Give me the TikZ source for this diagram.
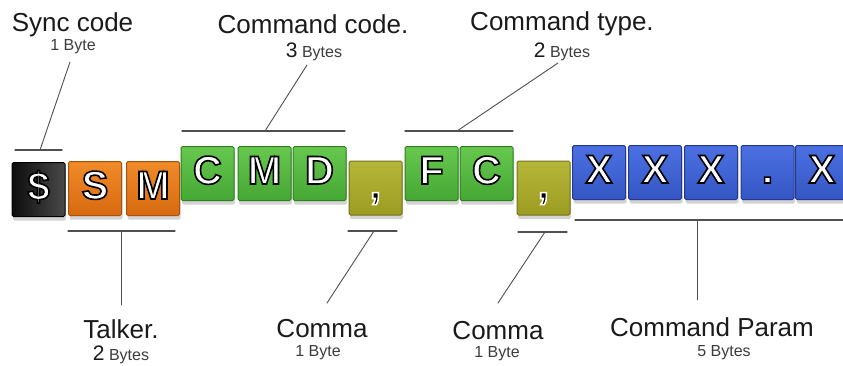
\documentclass[tikz,border=0pt]{standalone}
\usepackage{fontspec}
\setmainfont{Liberation Sans}
\newfontfamily\boxfont{Liberation Sans Bold}[FakeBold=4]
\usetikzlibrary{shadows}

\definecolor{syncdark}{HTML}{0C0C0C}
\definecolor{synclite}{HTML}{4A4A4A}
\definecolor{talktop}{HTML}{F08A2A}
\definecolor{talkbot}{HTML}{D86A10}
\definecolor{talkedge}{HTML}{A8520C}
\definecolor{cmdtop}{HTML}{66C84E}
\definecolor{cmdbot}{HTML}{46A834}
\definecolor{cmdedge}{HTML}{2F7E22}
\definecolor{cmatop}{HTML}{B6B63A}
\definecolor{cmabot}{HTML}{9C9C22}
\definecolor{cmaedge}{HTML}{74741A}
\definecolor{partop}{HTML}{4C70E2}
\definecolor{parbot}{HTML}{3556C4}
\definecolor{paredge}{HTML}{22388E}
\definecolor{rule}{HTML}{505050}
\definecolor{ink}{HTML}{1A1A1A}
\definecolor{sub}{HTML}{3C3C3C}

% white letters stroked in black
\newcommand\glyph[1]{\raisebox{4pt}{\boxfont\special{pdf:code 0 0 0 RG}#1}}
\newcommand\commaglyph{\raisebox{4pt}{\boxfont\color{black}\special{pdf:code 1 1 1 RG}{,}}}
\newcommand\bytes[1]{{\fontsize{21}{21}\selectfont\color{ink}#1} Bytes}

\tikzset{
  byte/.style={minimum width=53pt,minimum height=54pt,inner sep=0pt,
    rounded corners=1.5pt,line width=1pt,text=white,
    font=\fontsize{40}{40}\selectfont,text height=29pt,text depth=0pt,
    drop shadow={shadow xshift=1pt,shadow yshift=-4pt,opacity=.35}},
  syncbox/.style={byte,left color=syncdark,right color=synclite,draw=black},
  talkbox/.style={byte,top color=talktop,bottom color=talkbot,draw=talkedge},
  cmdbox/.style={byte,top color=cmdtop,bottom color=cmdbot,draw=cmdedge},
  commabox/.style={byte,top color=cmatop,bottom color=cmabot,draw=cmaedge},
  parbox/.style={byte,top color=partop,bottom color=parbot,draw=paredge},
  title/.style={font=\fontsize{26}{26}\selectfont,text=ink,inner sep=0pt},
  size/.style={font=\fontsize{16}{16}\selectfont,text=sub,inner sep=0pt},
  bracket/.style={draw=rule,line width=1.2pt},
  leader/.style={draw=rule,line width=.9pt}
}

\begin{document}
\begin{tikzpicture}[x=1pt,y=-1pt,line cap=round]
\useasboundingbox (0,0) rectangle (843,365);
\begin{scope}
\clip (0,0) rectangle (843,365);
% the bytes of the sentence
\node[syncbox] (b1) at (38.5,189.5) {\glyph{\$}};
\foreach \x/\c/\n in {95/S/b2,153/M/b3}
  \node[talkbox] (\n) at (\x,188.5) {\glyph{\c}};
\foreach \x/\c/\n in {207.5/C/b4,264.5/M/b5,319.5/D/b6,431.5/F/b8,486.5/C/b9}
  \node[cmdbox] (\n) at (\x,173.5) {\glyph{\c}};
\foreach \x/\n in {375.5/b7,543.5/b10}
  \node[commabox] (\n) at (\x,188) {\commaglyph};
\foreach \x/\c/\n in {599/X/b11,655/X/b12,711/X/b13,767.5/./b14,822/X/b15}
  \node[parbox] (\n) at (\x,172.5) {\glyph{\c}};
\end{scope}

% labels above
\node[title] (sync) at (72.5,25) {Sync code};
\node[size] (syncn) at (73,47) {1 Byte};
\node[title] (code) at (313,24) {Command code.};
\node[size] (coden) at (314,52) {\bytes{3}};
\node[title] (type) at (562,24) {Command type.};
\node[size] (typen) at (562,52) {\bytes{2}};

% labels below
\node[title] (talk) at (121,329) {Talker.};
\node[size] (talkn) at (121,355) {\bytes{2}};
\node[title] (comma1) at (322,329) {Comma};
\node[size] (comma1n) at (318,353) {1 Byte};
\node[title] (comma2) at (498,331) {Comma};
\node[size] (comma2n) at (497,354) {1 Byte};
\node[title] (param) at (712,327) {Command Param};
\node[size] (paramn) at (724,353) {5 Bytes};

% brackets and leaders
\coordinate (s1) at (15,150); \coordinate (s2) at (62,150);
\coordinate (s0) at (40,150); \coordinate (sp) at (70,62);
\coordinate (c1) at (182,131); \coordinate (c2) at (345,131);
\coordinate (c0) at (265,131); \coordinate (cp) at (307,65);
\coordinate (t1) at (405,131); \coordinate (t2) at (513,131);
\coordinate (t0) at (457,131); \coordinate (tp) at (558,63);
\coordinate (k1) at (68,231); \coordinate (k2) at (175,231);
\coordinate (k0) at (121,231); \coordinate (kp) at (121,305);
\coordinate (m1) at (348,231); \coordinate (m2) at (397,231);
\coordinate (m0) at (374,231); \coordinate (mp) at (327,303);
\coordinate (n1) at (518,232); \coordinate (n2) at (567,232);
\coordinate (n0) at (545,232); \coordinate (np) at (498,303);
\coordinate (p1) at (575,220); \coordinate (p2) at (843,220);
\coordinate (p0) at (697,220); \coordinate (pp) at (697,300);
\foreach \g in {s,c,t,k,m,n,p}{
  \draw[bracket] (\g1) -- (\g2);
  \draw[leader] (\g0) -- (\g p);
}
\end{tikzpicture}
\end{document}
